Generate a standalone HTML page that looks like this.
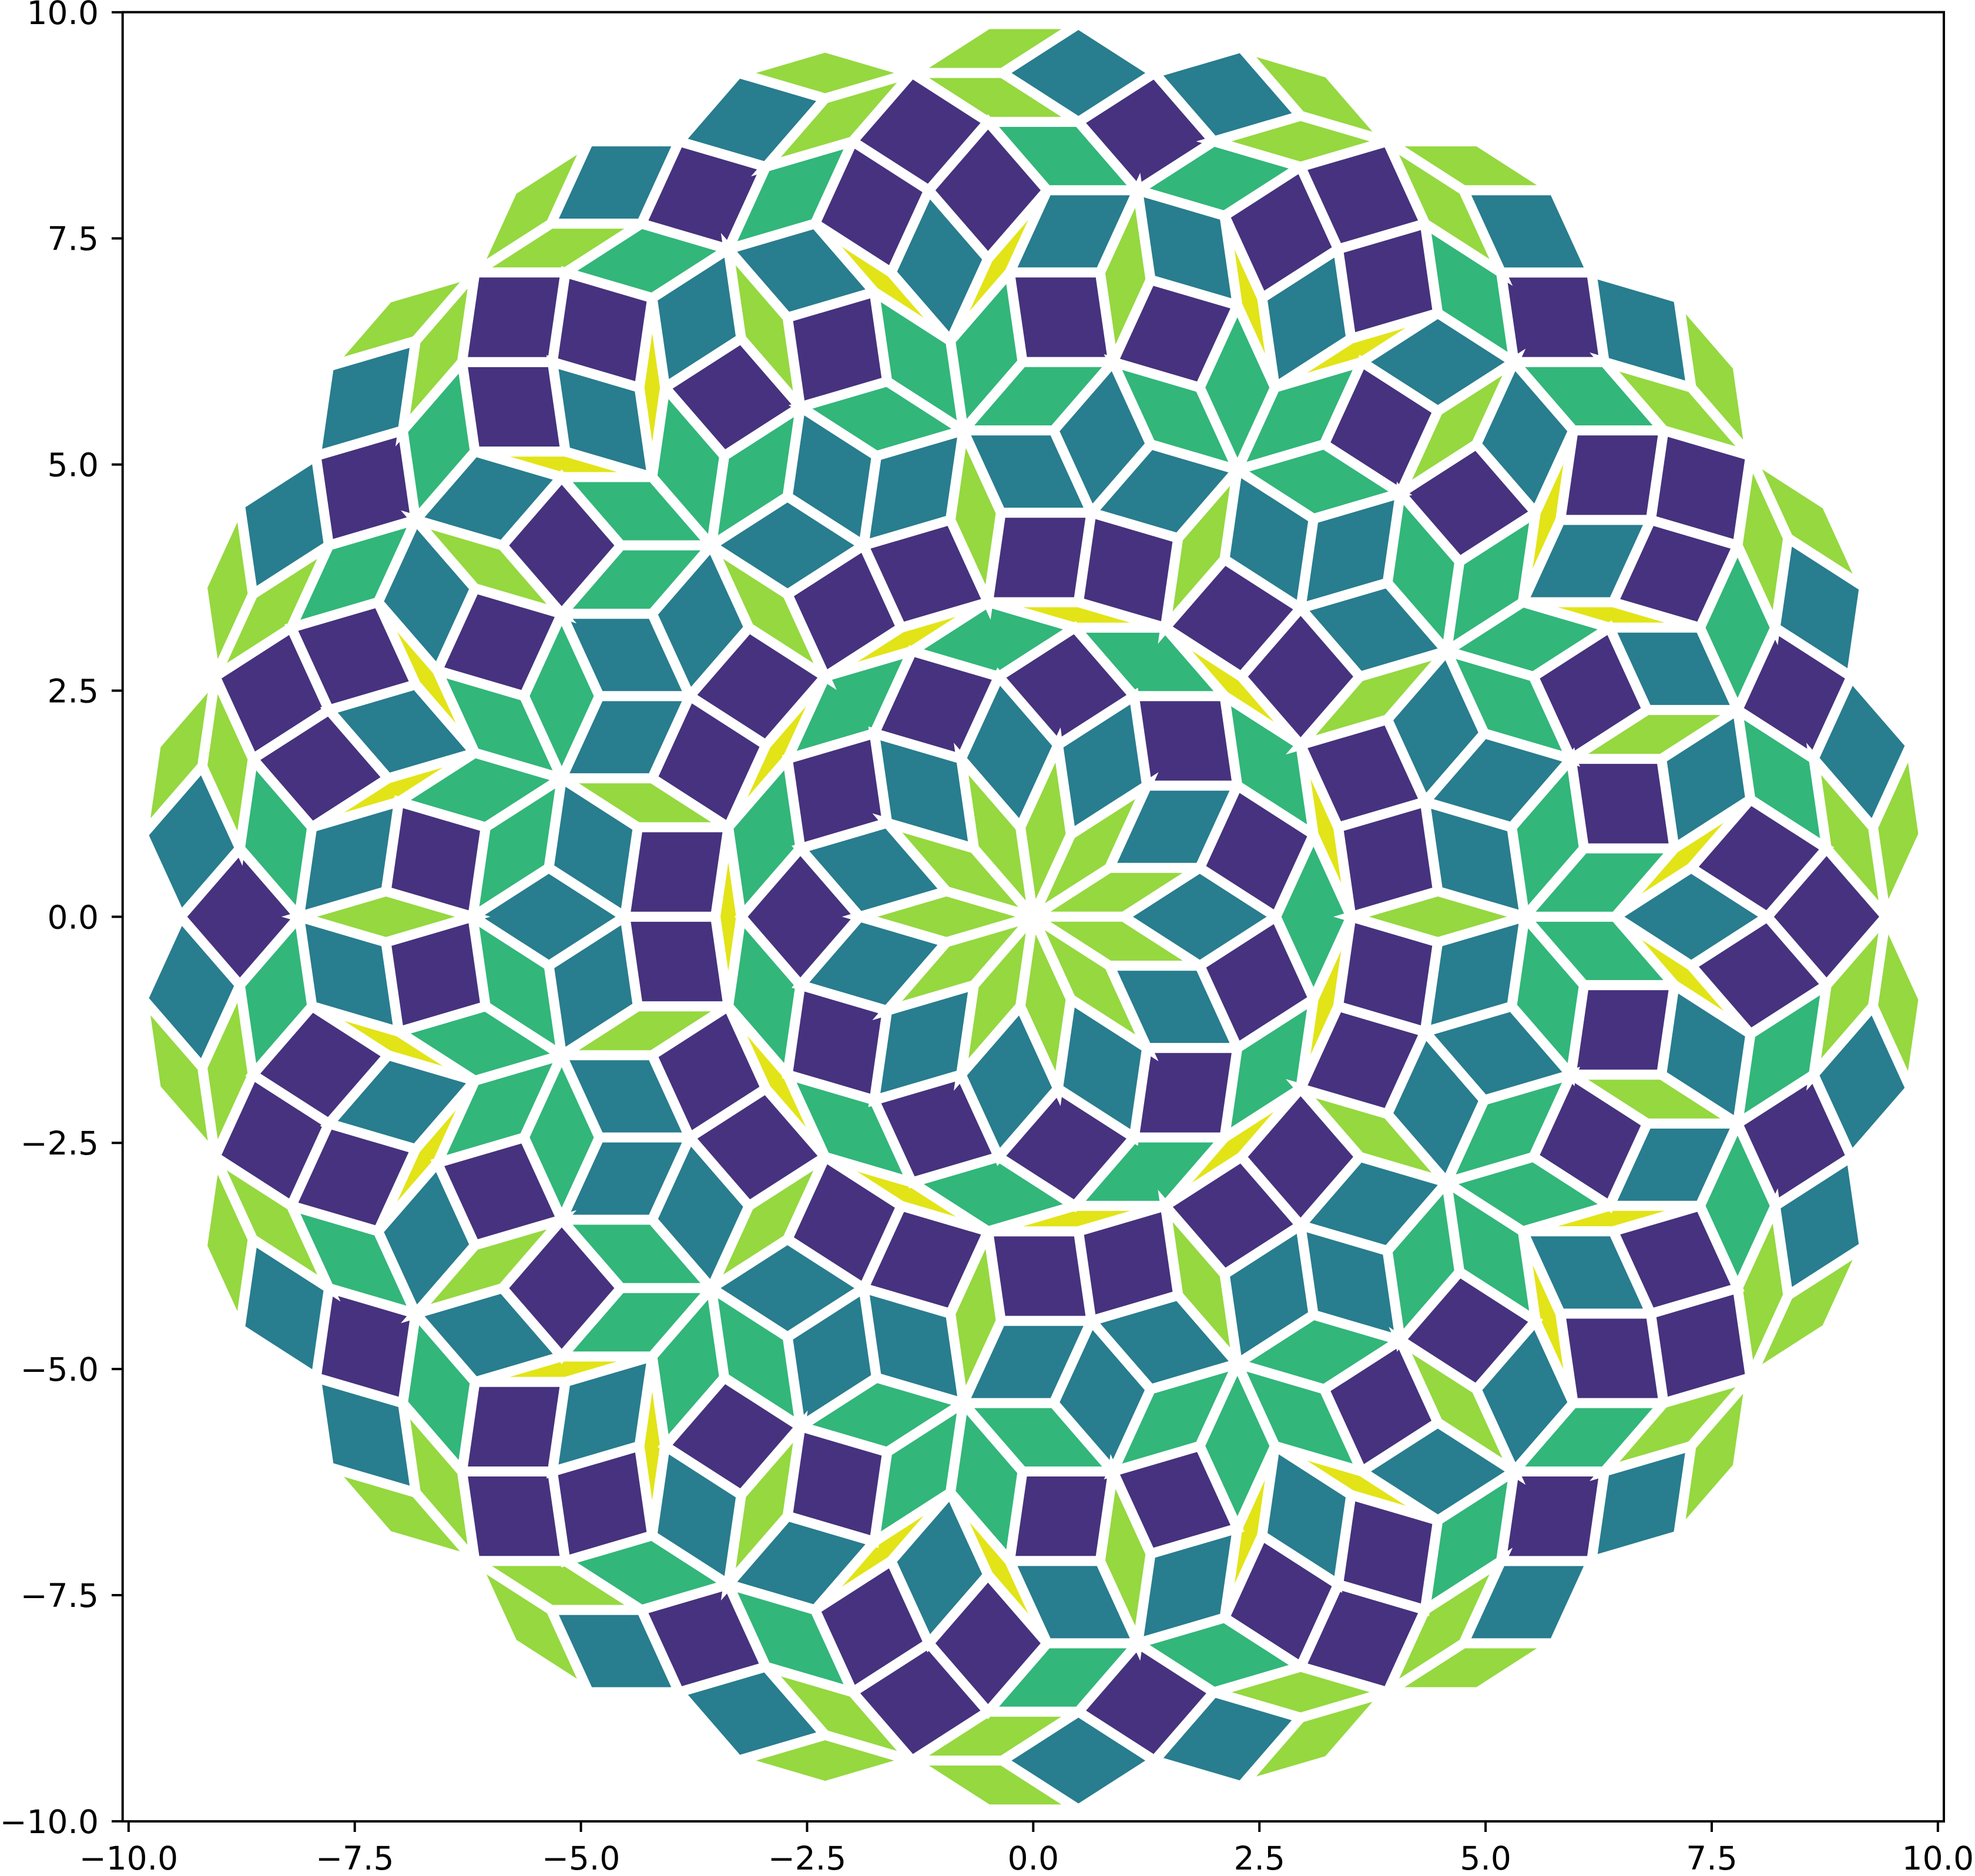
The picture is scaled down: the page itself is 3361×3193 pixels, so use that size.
<!DOCTYPE html>
<html><head><meta charset="utf-8">
<style>
html,body{margin:0;padding:0;background:#fff;}
svg{display:block;}
text{font-family:"DejaVu Sans","Liberation Sans",sans-serif;font-size:55px;fill:#000;}
</style></head>
<body>
<svg id="chart" width="3361" height="3193" viewBox="0 0 3361 3193" xmlns="http://www.w3.org/2000/svg">
<defs><clipPath id="clip"><rect x="208.7" y="20.7" width="3099.3" height="3079.3"/></clipPath></defs>
<rect x="208.7" y="20.7" width="3099.3" height="3079.3" fill="#fff"/>
<g id="tiles" clip-path="url(#clip)"></g>
<rect x="208.7" y="20.7" width="3099.3" height="3079.3" fill="none" stroke="#000" stroke-width="4"/>
<g id="xticks"></g>
<g id="yticks"></g>
</svg>
<script>
// de Bruijn multigrid parameters
const numLines = 11;
const gammaOffsets = [0.9,0.9,0.9,0.9,0.9,0.9,0.9,0.9,0.9,0.9,0.9];
const kValues = [-6,-5,-4,-3,-2,-1,0,1,2,3,4,5,6];
const cutoffRadius = [9.75];
const shapeColors = ['#95d840','#287d8e','#46327e','#32b67a','#e2e418'];
const xTickValues = [-10,-7.5,-5,-2.5,0,2.5,5,7.5,10];
const yTickValues = [-10,-7.5,-5,-2.5,0,2.5,5,7.5,10];
const xTickLabels = ['\u221210.0','\u22127.5','\u22125.0','\u22122.5','0.0','2.5','5.0','7.5','10.0'];
const yTickLabels = ['\u221210.0','\u22127.5','\u22125.0','\u22122.5','0.0','2.5','5.0','7.5','10.0'];

const PX = 153.95, X0 = 1758.35, Y0 = 1560.35;
function sx(x){return X0 + x*PX;}
function sy(y){return Y0 - y*PX;}
const NS = 'http://www.w3.org/2000/svg';

const zr = [], zi = [];
for (let t=0;t<numLines;t++){ zr.push(Math.cos(2*Math.PI*t/numLines)); zi.push(Math.sin(2*Math.PI*t/numLines)); }

const tiles = document.getElementById('tiles');
for (let r=0;r<numLines;r++){
  for (let s=r+1;s<numLines;s++){
    const det = zr[r]*zi[s]-zi[r]*zr[s];
    for (const kr of kValues){
      for (const ks of kValues){
        const a = kr - gammaOffsets[r], b = ks - gammaOffsets[s];
        const x = (a*zi[s]-b*zi[r])/det, y = (zr[r]*b - zr[s]*a)/det;
        const k = [];
        for (let t=0;t<numLines;t++) k.push(Math.ceil(x*zr[t]+y*zi[t]+gammaOffsets[t]));
        const pts = [];
        for (const [p,q] of [[kr,ks],[kr+1,ks],[kr+1,ks+1],[kr,ks+1]]){
          k[r]=p; k[s]=q;
          let vx=0, vy=0;
          for (let t=0;t<numLines;t++){ vx+=k[t]*zr[t]; vy+=k[t]*zi[t]; }
          pts.push([vx,vy]);
        }
        const cx=(pts[0][0]+pts[2][0])/2, cy=(pts[0][1]+pts[2][1])/2;
        if (Math.hypot(cx,cy) > cutoffRadius[0]) continue;
        const d = Math.min(s-r, numLines-(s-r));
        const poly = document.createElementNS(NS,'polygon');
        
        
        poly.setAttribute('points', pts.map(p=>sx(p[0]).toFixed(1)+','+sy(p[1]).toFixed(1)).join(' '));
        poly.setAttribute('fill', shapeColors[d-1]);
        poly.setAttribute('stroke', '#fff');
        poly.setAttribute('stroke-width', '17');
        poly.setAttribute('stroke-linejoin', 'miter');
        tiles.appendChild(poly);
      }
    }
  }
}

const xg = document.getElementById('xticks');
xTickValues.forEach((v,i)=>{
  const l = document.createElementNS(NS,'line');
  
  
  l.setAttribute('x1',sx(v)); l.setAttribute('x2',sx(v)); l.setAttribute('y1',3100); l.setAttribute('y2',3118);
  l.setAttribute('stroke','#000'); l.setAttribute('stroke-width','4');
  xg.appendChild(l);
  const t = document.createElementNS(NS,'text');
  
  
  t.setAttribute('x',sx(v)); t.setAttribute('y',3182); t.setAttribute('text-anchor','middle');
  t.textContent = xTickLabels[i];
  xg.appendChild(t);
});
const yg = document.getElementById('yticks');
yTickValues.forEach((v,i)=>{
  const l = document.createElementNS(NS,'line');
  
  
  l.setAttribute('x1',190); l.setAttribute('x2',208.7); l.setAttribute('y1',sy(v)); l.setAttribute('y2',sy(v));
  l.setAttribute('stroke','#000'); l.setAttribute('stroke-width','4');
  yg.appendChild(l);
  const t = document.createElementNS(NS,'text');
  
  
  t.setAttribute('x',168); t.setAttribute('y',sy(v)+20); t.setAttribute('text-anchor','end');
  t.textContent = yTickLabels[i];
  yg.appendChild(t);
});
</script>
</body></html>
